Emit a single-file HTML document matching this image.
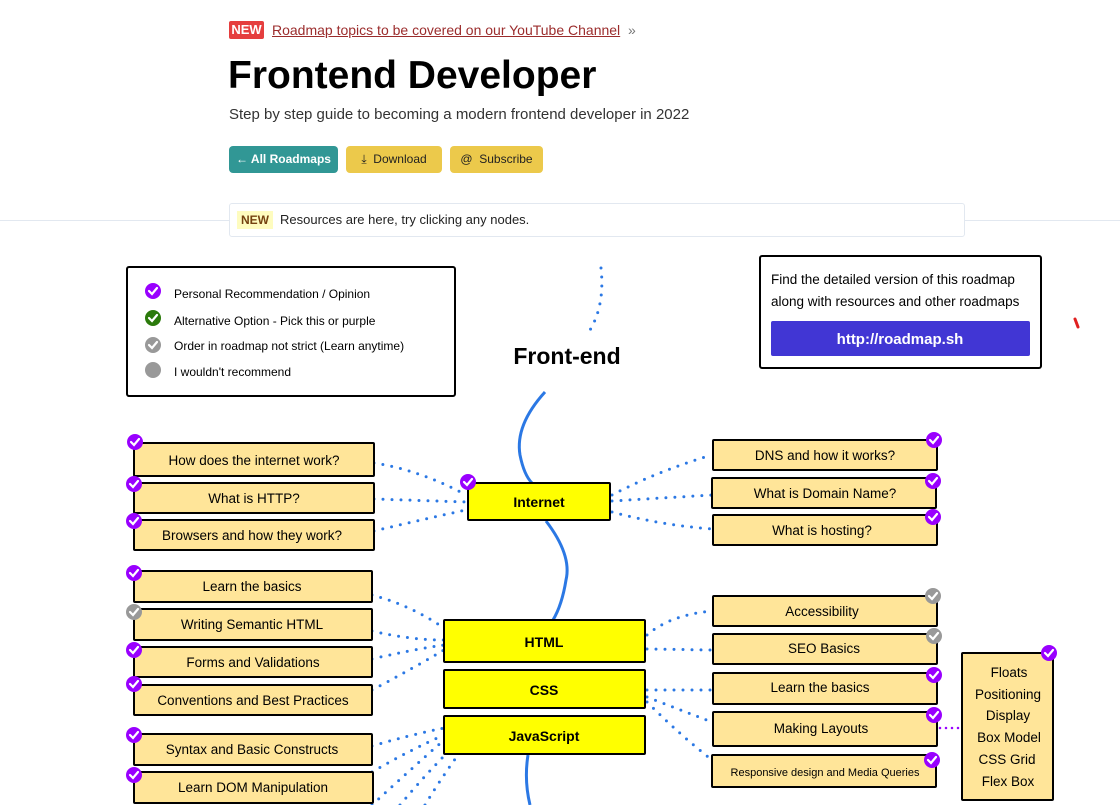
<!DOCTYPE html>
<html><head><meta charset="utf-8"><style>
html,body{margin:0;padding:0;background:#fff;width:1120px;height:805px;overflow:hidden;position:relative;font-family:"Liberation Sans",sans-serif}
.a{position:absolute}
</style></head><body>
<div class="a" style="left:229px;top:21px;width:35px;height:18px;background:#e53e3e;color:#fff;font-weight:bold;font-size:13px;line-height:18px;text-align:center;border-radius:2px">NEW</div>
<div class="a" style="left:272px;top:20px;font-size:14px;color:#9b2c2c;line-height:20px"><span style="text-decoration:underline">Roadmap topics to be covered on our YouTube Channel</span> <span style="color:#777">&nbsp;»</span></div>
<div class="a" style="left:228px;top:52px;font-size:39px;font-weight:bold;color:#000;line-height:48px">Frontend Developer</div>
<div class="a" style="left:229px;top:105px;font-size:15px;color:#333;line-height:20px">Step by step guide to becoming a modern frontend developer in 2022</div>
<div class="a" style="left:229px;top:146px;width:109px;height:27px;background:#319795;color:#fff;border-radius:4px;font-size:12px;font-weight:bold;line-height:27px;text-align:center">← All Roadmaps</div>
<div class="a" style="left:346px;top:146px;width:96px;height:27px;background:#ecc94b;color:#222;border-radius:4px;font-size:12px;line-height:27px;text-align:center">⤓&nbsp; Download</div>
<div class="a" style="left:450px;top:146px;width:93px;height:27px;background:#ecc94b;color:#222;border-radius:4px;font-size:12px;line-height:27px;text-align:center">@&nbsp; Subscribe</div>
<div class="a" style="left:0;top:220px;width:1120px;height:1px;background:#e2e8f0"></div>
<div class="a" style="left:229px;top:203px;width:734px;height:32px;background:#fff;border:1px solid #e2e8f0;border-radius:3px"></div>
<div class="a" style="left:237px;top:211px;width:36px;height:18px;background:#fefcbf;color:#744210;font-weight:bold;font-size:12px;line-height:18px;text-align:center">NEW</div>
<div class="a" style="left:280px;top:211px;font-size:13px;color:#222;line-height:18px">Resources are here, try clicking any nodes.</div>

<svg class="a" style="left:0;top:0" width="1120" height="805" font-family="Liberation Sans, sans-serif">
<defs>
<g id="ck"><circle r="8" fill="#9900ff"/><path d="M-4 0 L-1 3 L4 -3" stroke="#fff" stroke-width="2.2" fill="none" stroke-linecap="round"/></g>
<g id="cg"><circle r="8" fill="#999"/><path d="M-4 0 L-1 3 L4 -3" stroke="#fff" stroke-width="2.2" fill="none" stroke-linecap="round"/></g>
<g id="cgr"><circle r="8" fill="#2b7a0b"/><path d="M-4 0 L-1 3 L4 -3" stroke="#fff" stroke-width="2.2" fill="none" stroke-linecap="round"/></g>
</defs>
<!-- legend -->
<rect x="127" y="267" width="328" height="129" rx="2" fill="#fff" stroke="#000" stroke-width="2"/>
<use href="#ck" x="153" y="291"/><use href="#cgr" x="153" y="318"/><use href="#cg" x="153" y="345"/><circle cx="153" cy="370" r="8" fill="#999"/>
<g font-size="12" fill="#000"><text x="174" y="298">Personal Recommendation / Opinion</text><text x="174" y="325">Alternative Option - Pick this or purple</text><text x="174" y="350">Order in roadmap not strict (Learn anytime)</text><text x="174" y="376">I wouldn't recommend</text></g>
<!-- right info box -->
<rect x="760" y="256" width="281" height="112" rx="2" fill="#fff" stroke="#000" stroke-width="2"/>
<g font-size="13.5" fill="#000"><text x="771" y="284">Find the detailed version of this roadmap</text><text x="771" y="306">along with resources and other roadmaps</text></g>
<rect x="771" y="321" width="259" height="35" rx="2" fill="#4136d4"/>
<text x="900" y="344" text-anchor="middle" font-size="15" font-weight="bold" fill="#fff">http://roadmap.sh</text>
<path d="M1075 319 L1078 327" stroke="#e02020" stroke-width="3" stroke-linecap="round"/>
<!-- Front-end -->
<text x="567" y="364" text-anchor="middle" font-size="23" font-weight="bold">Front-end</text>
<g stroke="#2b78e4" stroke-width="3" stroke-dasharray="0 9" stroke-linecap="round" fill="none">
<path d="M601 268 Q605 305 590 330"/>
<!-- internet left -->
<path d="M374 463 Q420 470 466 495"/><path d="M374 499 L466 502"/><path d="M374 531 Q420 520 466 510"/>
<path d="M612 495 Q660 470 712 455"/><path d="M612 501 L712 495"/><path d="M612 512 Q660 525 712 529"/>
<path d="M372 595 Q410 605 444 628"/><path d="M372 631 Q410 640 444 640"/><path d="M372 659 Q410 650 444 645"/><path d="M372 690 Q410 670 444 650"/>
<path d="M372 746 Q410 735 444 728"/><path d="M372 772 Q410 750 444 735"/><path d="M372 805 Q410 770 444 740"/><path d="M400 805 Q425 775 450 750"/><path d="M425 805 Q440 780 458 755"/>
<path d="M647 635 Q670 615 712 611"/><path d="M647 649 L712 650"/>
<path d="M647 690 L712 690"/><path d="M647 697 Q680 710 712 722"/><path d="M647 702 Q680 735 712 760"/>
</g>
<path d="M940 728 L962 728" stroke="#9900ff" stroke-width="2.5" stroke-dasharray="0 6" stroke-linecap="round"/>
<g stroke="#2b78e4" stroke-width="3" fill="none">
<path d="M545 392 Q515 425 520 455 Q524 475 532 483"/>
<path d="M546 521 Q572 555 566 580 Q562 605 553 620"/>
<path d="M528 755 Q524 780 530 805"/>
</g>
<!-- yellow main nodes -->
<g fill="#ffff00" stroke="#000" stroke-width="2">
<rect x="468" y="483" width="142" height="37" rx="1"/>
<rect x="444" y="620" width="201" height="42" rx="1"/>
<rect x="444" y="670" width="201" height="38" rx="1"/>
<rect x="444" y="716" width="201" height="38" rx="1"/>
</g>
<g font-size="14" font-weight="bold" text-anchor="middle" fill="#000">
<text x="539" y="507">Internet</text><text x="544" y="647">HTML</text><text x="544" y="695">CSS</text><text x="544" y="741">JavaScript</text>
</g>
<use href="#ck" x="468" y="482"/>
<!-- sub nodes -->
<g fill="#ffe599" stroke="#000" stroke-width="2">
<rect x="134" y="443" width="240" height="33" rx="1"/>
<rect x="134" y="483" width="240" height="30" rx="1"/>
<rect x="134" y="520" width="240" height="30" rx="1"/>
<rect x="134" y="571" width="238" height="31" rx="1"/>
<rect x="134" y="609" width="238" height="31" rx="1"/>
<rect x="134" y="647" width="238" height="30" rx="1"/>
<rect x="134" y="685" width="238" height="30" rx="1"/>
<rect x="134" y="734" width="238" height="31" rx="1"/>
<rect x="134" y="772" width="239" height="31" rx="1"/>
<rect x="713" y="440" width="224" height="30" rx="1"/>
<rect x="712" y="478" width="224" height="30" rx="1"/>
<rect x="713" y="515" width="224" height="30" rx="1"/>
<rect x="713" y="596" width="224" height="30" rx="1"/>
<rect x="713" y="634" width="224" height="30" rx="1"/>
<rect x="713" y="673" width="224" height="31" rx="1"/>
<rect x="713" y="712" width="224" height="34" rx="1"/>
<rect x="712" y="755" width="224" height="32" rx="1"/>
<rect x="962" y="653" width="91" height="147" rx="1"/>
</g>
<g font-size="13.5" text-anchor="middle" fill="#000">
<text x="254" y="465">How does the internet work?</text>
<text x="254" y="503">What is HTTP?</text>
<text x="252" y="540">Browsers and how they work?</text>
<text x="252" y="591">Learn the basics</text>
<text x="252" y="629">Writing Semantic HTML</text>
<text x="253" y="667">Forms and Validations</text>
<text x="253" y="705">Conventions and Best Practices</text>
<text x="252" y="754">Syntax and Basic Constructs</text>
<text x="253" y="792">Learn DOM Manipulation</text>
<text x="825" y="460">DNS and how it works?</text>
<text x="825" y="498">What is Domain Name?</text>
<text x="822" y="535">What is hosting?</text>
<text x="822" y="616">Accessibility</text>
<text x="824" y="653">SEO Basics</text>
<text x="820" y="692">Learn the basics</text>
<text x="821" y="733">Making Layouts</text>
<text x="825" y="776" font-size="11">Responsive design and Media Queries</text>
<text x="1009" y="677">Floats</text><text x="1008" y="699">Positioning</text><text x="1008" y="720">Display</text><text x="1009" y="742">Box Model</text><text x="1007" y="764">CSS Grid</text><text x="1008" y="786">Flex Box</text>
</g>
<use href="#ck" x="135" y="442"/><use href="#ck" x="134" y="484"/><use href="#ck" x="134" y="521"/>
<use href="#ck" x="134" y="573"/><use href="#cg" x="134" y="612"/><use href="#ck" x="134" y="650"/><use href="#ck" x="134" y="684"/>
<use href="#ck" x="134" y="735"/><use href="#ck" x="134" y="775"/>
<use href="#ck" x="934" y="440"/><use href="#ck" x="933" y="481"/><use href="#ck" x="933" y="517"/>
<use href="#cg" x="933" y="596"/><use href="#cg" x="934" y="636"/><use href="#ck" x="934" y="675"/><use href="#ck" x="934" y="715"/><use href="#ck" x="932" y="760"/><use href="#ck" x="1049" y="653"/>
</svg>
</body></html>
